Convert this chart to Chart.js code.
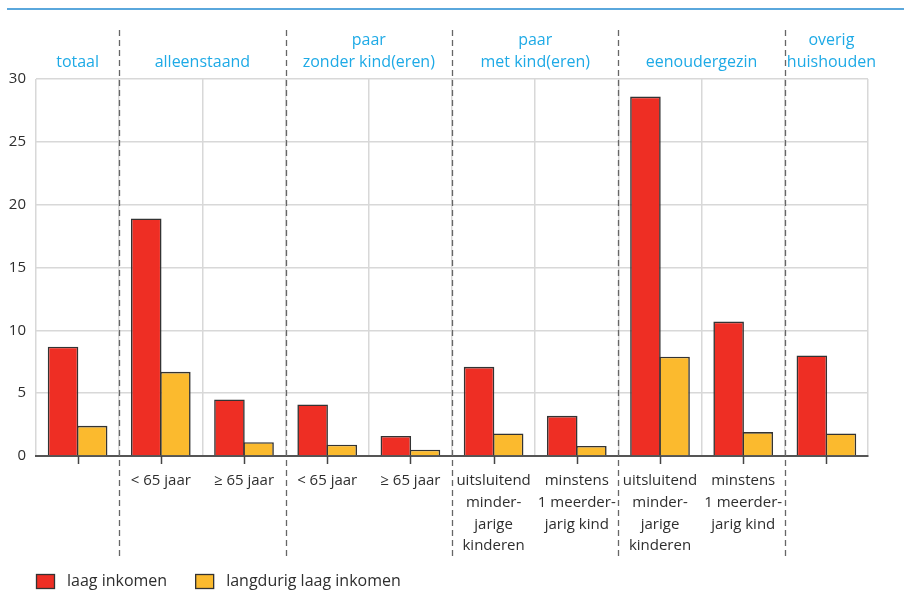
<!DOCTYPE html>
<html>
<head>
<meta charset="utf-8">
<script src="https://cdn.jsdelivr.net/npm/chart.js@4.4.0/dist/chart.umd.min.js"></script>
<style>
  html, body { margin: 0; padding: 0; background: #fff; }
  #wrap { position: relative; width: 904px; height: 591px; }
  #topline { position: absolute; left: 7px; right: 0; top: 8px; height: 2px; background: #5aa7dc; }
</style>
</head>
<body>
<div id="wrap">
  <div id="topline"></div>
  <canvas id="c" width="904" height="591"></canvas>
</div>
<script>
  // categorieën (x-as), meerregelig
  var categories = [
    "",
    "< 65 jaar",
    "≥ 65 jaar",
    "< 65 jaar",
    "≥ 65 jaar",
    ["uitsluitend", "minder-", "jarige", "kinderen"],
    ["minstens", "1 meerder-", "jarig kind"],
    ["uitsluitend", "minder-", "jarige", "kinderen"],
    ["minstens", "1 meerder-", "jarig kind"],
    ""
  ];

  // huishoudtypen boven de grafiek: label + eerste/laatste categorie-index
  var groupLabels = [["totaal"], ["alleenstaand"], ["paar", "zonder kind(eren)"], ["paar", "met kind(eren)"], ["eenoudergezin"], ["overig", "huishouden"]];
  var groupFrom = [0, 1, 3, 5, 7, 9];
  var groupTo = [0, 2, 4, 6, 8, 9];

  var seriesNames = ["laag inkomen", "langdurig laag inkomen"];
  var laagInkomen = [8.7, 18.9, 4.5, 4.1, 1.6, 7.1, 3.2, 28.6, 10.7, 8.0];
  var langdurigLaag = [2.4, 6.7, 1.1, 0.9, 0.5, 1.8, 0.8, 7.9, 1.9, 1.8];

  var yTicks = [0, 5, 10, 15, 20, 25, 30];

  var FONT = "'Open Sans', 'DejaVu Sans', sans-serif";
  var CYAN = "#1eaae6";
  var TEXT = "#2e2e2e";

  // groepskoppen, stippellijnen, tickstreepjes en legenda
  var decor = {
    id: "decor",
    afterDraw: function (chart) {
      var ctx = chart.ctx, x = chart.scales.x, area = chart.chartArea;
      ctx.save();

      // stippellijnen tussen groepen
      ctx.strokeStyle = "#666";
      ctx.lineWidth = 1.3;
      ctx.setLineDash([6, 4]);
      for (var g = 0; g < groupTo.length - 1; g++) {
        var bx = Math.round((x.getPixelForValue(groupTo[g]) + x.getPixelForValue(groupTo[g] + 1)) / 2) + 0.5;
        ctx.beginPath();
        ctx.moveTo(bx, 30);
        ctx.lineTo(bx, 558);
        ctx.stroke();
      }
      ctx.setLineDash([]);

      // tickstreepjes onder de as
      ctx.strokeStyle = "#444";
      ctx.lineWidth = 1.5;
      categories.forEach(function (c, i) {
        var tx = Math.round(x.getPixelForValue(i)) + 0.5;
        ctx.beginPath();
        ctx.moveTo(tx, area.bottom);
        ctx.lineTo(tx, area.bottom + 8);
        ctx.stroke();
      });

      // groepskoppen
      ctx.fillStyle = CYAN;
      ctx.font = "16px " + FONT;
      ctx.textAlign = "center";
      ctx.textBaseline = "middle";
      groupLabels.forEach(function (lines, g) {
        var cx = (x.getPixelForValue(groupFrom[g]) + x.getPixelForValue(groupTo[g])) / 2;
        if (g === groupLabels.length - 1) cx += 5;
        var y0 = 62 - (lines.length - 1) * 22;
        lines.forEach(function (ln, k) { ctx.fillText(ln, cx, y0 + k * 22); });
      });

      // legenda
      ctx.font = "16px " + FONT;
      ctx.textAlign = "left";
      var lx = 36;
      chart.data.datasets.forEach(function (ds) {
        ctx.fillStyle = ds.backgroundColor;
        ctx.fillRect(lx, 574, 18, 14);
        ctx.strokeStyle = ds.borderColor;
        ctx.lineWidth = 1.3;
        ctx.strokeRect(lx + 0.5, 574.5, 18, 14);
        ctx.fillStyle = TEXT;
        ctx.fillText(ds.label, lx + 31, 581);
        lx += 31 + ctx.measureText(ds.label).width + 28;
      });
      ctx.restore();
    }
  };

  new Chart(document.getElementById("c"), {
    type: "bar",
    data: {
      labels: categories,
      datasets: [
        { label: seriesNames[0], data: laagInkomen, backgroundColor: "#ee2e24", borderColor: "#333333", borderWidth: 1.6 },
        { label: seriesNames[1], data: langdurigLaag, backgroundColor: "#fbba2e", borderColor: "#333333", borderWidth: 1.6 }
      ]
    },
    options: {
      responsive: false,
      animation: false,
      layout: { padding: { top: 79, left: 6, right: 36, bottom: 0 } },
      datasets: { bar: { categoryPercentage: 0.7, barPercentage: 1.05 } },
      plugins: { legend: { display: false }, tooltip: { enabled: false } },
      scales: {
        x: {
          afterFit: function (s) { s.height = 135; },
          grid: { offset: true, color: "#d8d8d8", lineWidth: 1.5, drawTicks: false },
          border: { display: true, color: "#555", width: 2 },
          ticks: { color: TEXT, font: { family: FONT, size: 15, lineHeight: 1.45 }, padding: 14, maxRotation: 0, autoSkip: false }
        },
        y: {
          min: 0, max: 30,
          afterFit: function (s) { s.width = 30; },
          afterBuildTicks: function (s) { s.ticks = yTicks.map(function (v) { return { value: v }; }); },
          grid: { color: "#d8d8d8", lineWidth: 1.5, drawTicks: false },
          border: { display: false },
          ticks: { color: TEXT, font: { family: FONT, size: 15 }, padding: 10 }
        }
      }
    },
    plugins: [decor]
  });
</script>
</body>
</html>
